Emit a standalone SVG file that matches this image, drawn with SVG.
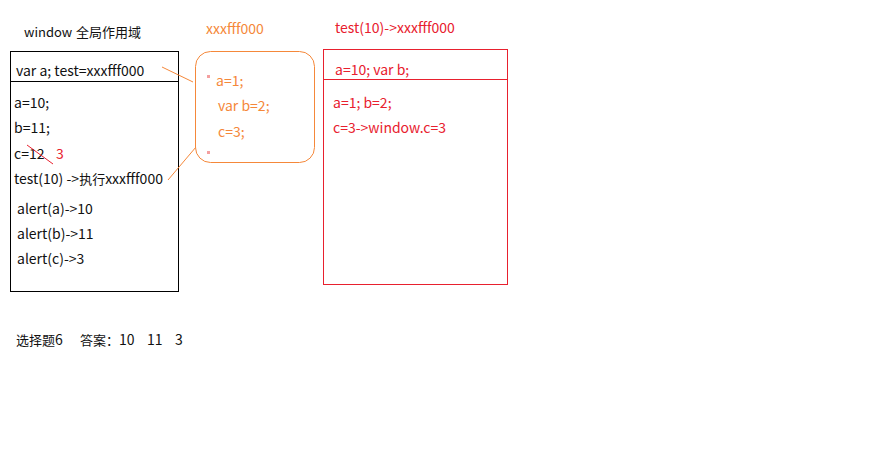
<svg xmlns="http://www.w3.org/2000/svg" width="884" height="474" viewBox="0 0 884 474">
<style>
text{font-family:"Noto Sans CJK SC","Liberation Sans",sans-serif;font-size:14px;fill:#111}
.cj{font-size:13px}
.o{fill:#f5883a}
.r{fill:#e8202e}
.box{fill:none;stroke:#000;stroke-width:1}
</style>
<rect width="884" height="474" fill="#fff"/>
<g id="window-scope">
<text x="24" y="37" class="cj">window<tspan x="76">全局作用域</tspan></text>
<rect class="box" x="10.5" y="51.5" width="168" height="240"/>
<line x1="10" y1="81.5" x2="178" y2="81.5" stroke="#000"/>
<text x="16" y="76">var a; test=xxxfff000</text>
<text x="14" y="108">a=10;</text>
<text x="14" y="133">b=11;</text>
<text x="14" y="159">c=12</text>
<text x="56" y="159" class="r">3</text>
<text x="14" y="184">test(10) -&gt;<tspan class="cj">执行</tspan>xxxfff000</text>
<text x="17" y="214">alert(a)-&gt;10</text>
<text x="17" y="239">alert(b)-&gt;11</text>
<text x="17" y="264">alert(c)-&gt;3</text>
</g>
<g id="function-xxxfff000">
<text x="206" y="34" class="o">xxxfff000</text>
<rect x="195.5" y="51.5" width="119" height="111" rx="15" fill="none" stroke="#f5883a"/>
<rect x="207" y="75" width="3" height="3" fill="#f4a0a0"/>
<rect x="207" y="151" width="3" height="3" fill="#f4a0a0"/>
<text x="216" y="86" class="o">a=1;</text>
<text x="218" y="111" class="o">var b=2;</text>
<text x="218" y="137" class="o">c=3;</text>
</g>
<g id="test-call">
<text x="335" y="33" class="r">test(10)-&gt;xxxfff000</text>
<rect x="323.5" y="49.5" width="184" height="235" fill="none" stroke="#e8202e"/>
<line x1="323" y1="79.5" x2="507" y2="79.5" stroke="#e8202e"/>
<text x="335" y="75" class="r">a=10; var b;</text>
<text x="333" y="108" class="r">a=1; b=2;</text>
<text x="333" y="133" class="r">c=3-&gt;window.c=3</text>
</g>
<g id="answer">
<text x="16" y="345"><tspan class="cj">选择题</tspan>6<tspan class="cj" x="80">答案：</tspan><tspan x="119">10</tspan><tspan x="147">11</tspan><tspan x="175">3</tspan></text>
</g>
<g id="connectors" fill="none" stroke-width="1">
<line x1="162" y1="67" x2="193" y2="82" stroke="#f5883a"/>
<line x1="168" y1="180" x2="196" y2="147" stroke="#f5883a"/>
<line x1="27" y1="145" x2="53" y2="164" stroke="#e8202e"/>
</g>
</svg>
